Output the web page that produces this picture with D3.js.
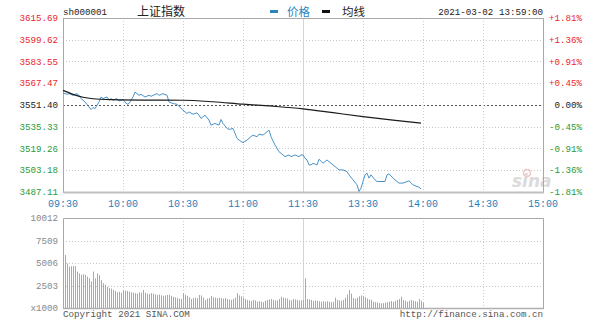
<!DOCTYPE html>
<html><head><meta charset="utf-8">
<script src="https://cdn.jsdelivr.net/npm/d3@7"></script>
<style>html,body{margin:0;padding:0;background:#fff;}svg{display:block;}</style>
</head><body>
<svg id="c" width="600" height="327"></svg>
<script>
// ---------- data ----------
const symbol = "sh000001";
const indexName = "上证指数";
const legendNames = ["价格", "均线"];
const stamp = "2021-03-02 13:59:00";
const priceTicks = [3615.69, 3599.62, 3583.55, 3567.47, 3551.40, 3535.33, 3519.26, 3503.18, 3487.11];
const pctTicks = ["+1.81%", "+1.36%", "+0.91%", "+0.45%", "0.00%", "-0.45%", "-0.91%", "-1.36%", "-1.81%"];
const timeTicks = ["09:30", "10:00", "10:30", "11:00", "11:30", "13:30", "14:00", "14:30", "15:00"];
const volTicks = [10012, 7509, 5006, 2503];
const volUnit = "x1000";
const prevClose = 3551.40;

const priceTimes = ["09:30","09:32","09:33","09:35","09:37","09:38","09:39","09:41","09:43","09:44","09:45","09:46","09:47","09:48","09:49","09:50","09:52","09:53","09:54","09:55","09:57","09:58","10:00","10:01","10:02","10:03","10:05","10:06","10:08","10:09","10:11","10:13","10:14","10:17","10:18","10:20","10:22","10:23","10:25","10:27","10:28","10:30","10:32","10:33","10:35","10:37","10:38","10:39","10:41","10:43","10:44","10:46","10:48","10:49","10:50","10:52","10:53","10:55","10:57","10:58","11:00","11:02","11:03","11:05","11:07","11:08","11:10","11:13","11:14","11:16","11:18","11:19","11:21","11:23","11:24","11:26","11:28","11:29","11:30","13:01","13:02","13:03","13:04","13:05","13:07","13:08","13:10","13:12","13:13","13:15","13:17","13:18","13:20","13:22","13:23","13:25","13:27","13:28","13:29","13:31","13:32","13:33","13:34","13:36","13:37","13:39","13:41","13:42","13:43","13:45","13:47","13:48","13:50","13:52","13:53","13:55","13:57","13:58","13:59"];
const priceValues = [3560.25,3559.30,3559.81,3558.56,3559.81,3558.56,3556.14,3553.64,3549.97,3548.06,3549.53,3548.79,3551.22,3553.64,3557.32,3556.14,3557.32,3554.89,3556.14,3554.89,3556.14,3554.38,3555.40,3553.64,3551.95,3552.47,3557.32,3560.99,3558.56,3559.30,3557.32,3558.56,3557.83,3559.81,3558.56,3559.81,3558.56,3553.64,3552.47,3551.95,3550.48,3547.54,3545.12,3546.29,3544.60,3545.56,3543.87,3541.44,3543.87,3540.19,3536.52,3537.77,3536.52,3540.71,3537.77,3534.10,3533.36,3534.10,3526.75,3525.50,3523.51,3525.50,3526.75,3529.17,3527.92,3529.91,3529.17,3532.85,3527.92,3521.82,3516.90,3515.73,3513.23,3514.48,3513.23,3514.48,3513.23,3514.48,3514.48,3512.05,3510.80,3507.13,3507.13,3508.38,3507.13,3511.32,3508.38,3510.80,3509.55,3507.13,3504.70,3503.45,3503.45,3502.21,3499.78,3496.11,3492.43,3487.51,3490.01,3499.78,3501.03,3497.36,3499.78,3496.11,3494.86,3494.86,3494.86,3499.78,3500.52,3497.36,3494.86,3493.68,3493.68,3494.86,3495.37,3492.43,3491.18,3490.74,3489.27];

const avgTimes = ["09:30","09:35","09:40","09:45","09:55","10:10","10:30","10:45","11:00","11:15","11:30","13:15","13:30","13:45","13:59"];
const avgValues = [3562.2,3559.3,3557.1,3556.0,3555.3,3555.0,3554.9,3553.8,3552.0,3550.5,3548.6,3545.7,3542.8,3540.2,3538.0];

// one bar per minute, 09:31 .. 11:30, 13:01 .. 13:59
const volumes = [5900,4950,4600,4650,4680,4650,4050,3850,3700,3750,3700,3500,3300,2950,4050,3300,3850,3650,3100,2750,
2600,2350,2200,2150,2000,1900,1750,1800,1700,2000,1950,1900,1800,1750,1700,1650,1600,1750,1700,2000,
1700,1600,1550,1650,1600,1500,1450,1500,1400,1350,1400,1450,1450,1350,1250,1200,1100,1050,1000,1650,
1450,1350,1200,1000,1100,1150,1100,1450,1400,1150,900,1050,1100,1350,1200,1150,1100,1150,1100,1050,
1100,1000,950,900,1000,1150,1650,1400,1300,1150,1000,900,850,780,900,850,700,750,700,650,
800,900,950,1000,900,850,850,1000,1250,1150,1100,1050,900,850,1000,950,900,850,850,900,
3300,1000,950,900,800,850,800,750,700,750,700,750,700,650,700,1150,900,850,800,900,
1150,1500,2000,1600,1100,1050,1150,1300,1400,1350,1200,1050,950,900,700,650,620,550,520,540,
600,650,700,780,700,800,900,1000,1250,900,800,700,800,900,800,750,700,1000,800,600];

// ---------- helpers ----------
function minuteIndex(t) {
  const [h, m] = t.split(":").map(Number);
  const mins = h * 60 + m;
  return mins <= 690 ? mins - 570 : mins - 780 + 120;
}

const svg = d3.select("#c");
const L = 63, R = 543, T = 18, B = 192;
const VT = 218, VB = 308;
const mono = "'Liberation Mono', 'DejaVu Sans Mono', monospace";
const red = "#e8262d", green = "#2b9a35", blue = "#2a7fc0";

const x = d3.scaleLinear().domain([0, 240]).range([L, R]);
const y = d3.scaleLinear().domain([priceTicks[priceTicks.length - 1], priceTicks[0]]).range([B, T]);
const yv = d3.scaleLinear().domain([0, volTicks[0]]).range([VB, VT]);

// ---------- price panel grid ----------
const g = svg.append("g");
priceTicks.slice(1, -1).forEach(p => {
  const base = p === prevClose;
  g.append("line").attr("x1", L).attr("x2", R).attr("y1", Math.round(y(p)) + 0.5).attr("y2", Math.round(y(p)) + 0.5)
    .attr("stroke", base ? "#555" : "#c8c8c8").attr("stroke-dasharray", base ? "2,2" : "1,2").attr("stroke-width", 1);
});
const tickIdx = [0, 30, 60, 90, 120, 150, 180, 210, 240];
tickIdx.slice(1, -1).forEach(i => {
  const solid = i === 120;
  [[T, B], [VT, VB]].forEach(([a, b]) => {
    g.append("line").attr("x1", Math.round(x(i)) + 0.5).attr("x2", Math.round(x(i)) + 0.5).attr("y1", a).attr("y2", b)
      .attr("stroke", solid ? "#d4d4d4" : "#cfcfcf").attr("stroke-dasharray", solid ? null : "1,2");
  });
});
volTicks.slice(1).forEach(v => {
  g.append("line").attr("x1", L).attr("x2", R).attr("y1", Math.round(yv(v)) + 0.5).attr("y2", Math.round(yv(v)) + 0.5)
    .attr("stroke", "#c8c8c8").attr("stroke-dasharray", "1,2");
});

// watermark
const wm = svg.append("g").attr("opacity", 0.75);
wm.append("text").attr("x", 512).attr("y", 187).attr("font-family", "'DejaVu Sans', sans-serif").attr("font-style", "italic")
  .attr("font-weight", "bold").attr("font-size", 17).attr("fill", "#cfcfcf").text("sina");
wm.append("circle").attr("cx", 527).attr("cy", 173).attr("r", 3.5).attr("fill", "none").attr("stroke", "#f0b0b0").attr("stroke-width", 1.5);

// frames
const frame = svg.append("g").attr("fill", "none");
frame.append("path").attr("d", `M${L + 0.5},${T}V${B}M${L},${T + 0.5}H${R + 0.5}V${B}`).attr("stroke", "#a8a8a8");
frame.append("line").attr("x1", L).attr("x2", R + 1).attr("y1", B + 0.5).attr("y2", B + 0.5).attr("stroke", "#c0c0c0").attr("stroke-width", 2);
frame.append("path").attr("d", `M${L + 0.5},${VB}V${VT + 0.5}H${R + 0.5}V${VB}`).attr("stroke", "#a8a8a8");
frame.append("line").attr("x1", L).attr("x2", R + 1).attr("y1", VB + 0.5).attr("y2", VB + 0.5).attr("stroke", "#b0b0b0").attr("stroke-width", 1.5);

// ---------- volume bars ----------
svg.append("g").selectAll("rect").data(volumes).join("rect")
  .attr("x", (d, i) => Math.round(x(i + 1)))
  .attr("width", 1)
  .attr("y", d => yv(d))
  .attr("height", d => VB - yv(d))
  .attr("fill", "#a9a9a9");

// ---------- lines ----------
const priceData = priceTimes.map((t, i) => [minuteIndex(t), priceValues[i]]);
const avgData = avgTimes.map((t, i) => [minuteIndex(t), avgValues[i]]);
const line = d3.line().x(d => x(d[0])).y(d => y(d[1]));
svg.append("path").datum(priceData).attr("d", line).attr("fill", "none").attr("stroke", "#4a93c9").attr("stroke-width", 1);
svg.append("path").datum(avgData).attr("d", line.curve(d3.curveMonotoneX)).attr("fill", "none").attr("stroke", "#1a1a1a").attr("stroke-width", 1.2);

// ---------- labels ----------
const lab = svg.append("g").attr("font-family", mono).attr("font-size", 9.2);
priceTicks.forEach(p => {
  const c = p > prevClose ? red : (p < prevClose ? green : "#222");
  lab.append("text").attr("x", 58).attr("y", y(p)).attr("dy", "0.35em").attr("text-anchor", "end").attr("fill", c).text(p.toFixed(2));
});
pctTicks.forEach((t, i) => {
  const c = t.startsWith("+") ? red : (t.startsWith("-") ? green : "#222");
  lab.append("text").attr("x", 582).attr("y", y(priceTicks[i])).attr("dy", "0.35em").attr("text-anchor", "end").attr("fill", c).text(t);
});
timeTicks.forEach((t, i) => {
  lab.append("text").attr("x", x(tickIdx[i])).attr("y", 203).attr("dy", "0.35em").attr("text-anchor", "middle")
    .attr("fill", blue).attr("font-size", 10).text(t);
});
volTicks.forEach(v => {
  lab.append("text").attr("x", 58).attr("y", yv(v)).attr("dy", "0.35em").attr("text-anchor", "end").attr("fill", "#888").text(v);
});
lab.append("text").attr("x", 58).attr("y", VB).attr("dy", "0.35em").attr("text-anchor", "end").attr("fill", "#888").text(volUnit);
lab.append("text").attr("x", 63).attr("y", 314).attr("dy", "0.35em").attr("fill", "#555").text("Copyright 2021 SINA.COM");
lab.append("text").attr("x", 543).attr("y", 314).attr("dy", "0.35em").attr("text-anchor", "end").attr("fill", "#555").text("http://finance.sina.com.cn");

// header
lab.append("text").attr("x", 63).attr("y", 12).attr("dy", "0.35em").attr("fill", "#222").text(symbol);
lab.append("text").attr("x", 543).attr("y", 12).attr("dy", "0.35em").attr("text-anchor", "end").attr("fill", "#222").text(stamp);
const cjk = "'Noto Sans CJK SC', sans-serif";
svg.append("text").attr("x", 137).attr("y", 12).attr("dy", "0.35em").attr("font-family", cjk).attr("font-size", 12).attr("fill", "#222").text(indexName);
svg.append("rect").attr("x", 270).attr("y", 10).attr("width", 8).attr("height", 3).attr("fill", "#2a86c2");
svg.append("text").attr("x", 287).attr("y", 12).attr("dy", "0.35em").attr("font-family", cjk).attr("font-size", 11.5).attr("fill", "#2a86c2").text(legendNames[0]);
svg.append("rect").attr("x", 322).attr("y", 10).attr("width", 8).attr("height", 3).attr("fill", "#111");
svg.append("text").attr("x", 342).attr("y", 12).attr("dy", "0.35em").attr("font-family", cjk).attr("font-size", 11.5).attr("fill", "#222").text(legendNames[1]);
</script>
</body></html>
